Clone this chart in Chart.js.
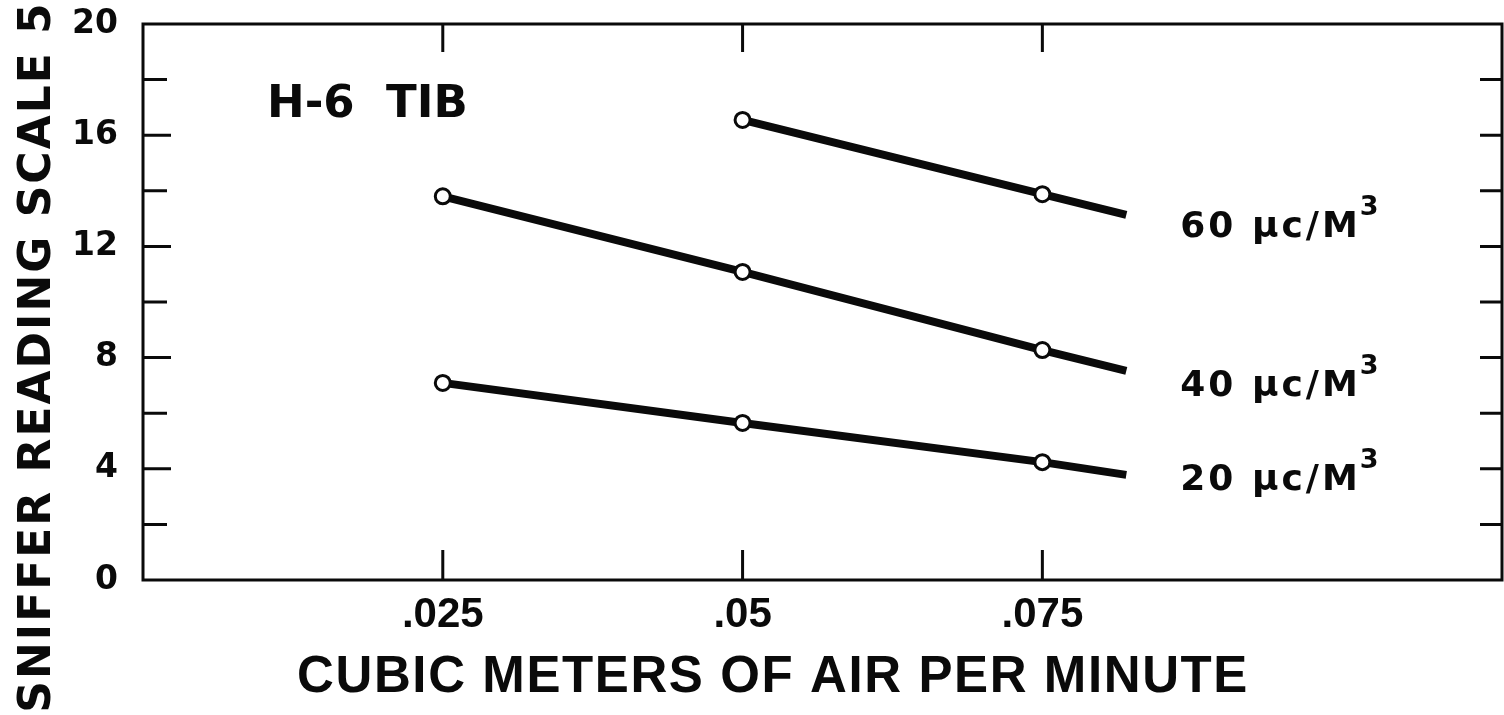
<!DOCTYPE html>
<html>
<head>
<meta charset="utf-8">
<title>Sniffer reading vs air flow</title>
<script src="https://cdn.jsdelivr.net/npm/chart.js@4"></script>
<style>
  html, body { margin: 0; padding: 0; background: #fff; overflow: hidden; }
  #wrap { width: 1504px; height: 715px; }
</style>
</head>
<body>
<div id="wrap"><canvas id="chart"></canvas></div>
<script>
// values (last point of each line = where the drawn line stops)
const flow60 = [0.05, 0.075, 0.082];
const reading60 = [16.55, 13.88, 13.13];
const flow40 = [0.025, 0.05, 0.075, 0.082];
const reading40 = [13.8, 11.08, 8.27, 7.52];
const flow20 = [0.025, 0.05, 0.075, 0.082];
const reading20 = [7.09, 5.65, 4.24, 3.78];

const seriesLabels = ['60 μc/M³', '40 μc/M³', '20 μc/M³'];
const xTickValues = [0.025, 0.05, 0.075];
const xTickLabels = ['.025', '.05', '.075'];
const yLabelEvery = 4;
const xTitle = 'CUBIC METERS OF AIR PER MINUTE';
const yTitle = 'SNIFFER READING SCALE 5';
const noteText = 'H-6  TIB';

const ink = '#0a0a0a';
// offsets of the series labels from the end of their line (px)
const labelDx = 54;
const labelDy = [22, 25, 15];

// frame + inward tick marks on all four sides
const frame = {
    id: 'frame',
    beforeDatasetsDraw(chart) {
        const { ctx, chartArea: a, scales: { x, y } } = chart;
        ctx.save();
        ctx.strokeStyle = ink;
        ctx.lineWidth = 3;
        ctx.strokeRect(a.left, a.top, a.right - a.left, a.bottom - a.top);
        ctx.beginPath();
        for (const t of x.ticks) {
            const px = x.getPixelForValue(t.value);
            ctx.moveTo(px, a.top);
            ctx.lineTo(px, a.top + 28);
            ctx.moveTo(px, a.bottom);
            ctx.lineTo(px, a.bottom - 30);
        }
        for (const t of y.ticks) {
            if (t.value <= y.min || t.value >= y.max) continue;
            const py = y.getPixelForValue(t.value);
            const len = t.value % yLabelEvery === 0 ? 28 : 24;
            ctx.moveTo(a.left, py);
            ctx.lineTo(a.left + len, py);
            ctx.moveTo(a.right, py);
            ctx.lineTo(a.right - 22, py);
        }
        ctx.stroke();
        ctx.restore();
    }
};

// axis titles, the note and the line labels
const texts = {
    id: 'texts',
    afterDraw(chart) {
        const { ctx, chartArea: a } = chart;
        ctx.save();
        ctx.fillStyle = ink;
        ctx.textBaseline = 'alphabetic';

        // y title, reads bottom to top
        ctx.save();
        ctx.font = 'bold 44px "DejaVu Sans"';
        ctx.letterSpacing = '2px';
        ctx.textAlign = 'center';
        ctx.translate(50, 357);
        ctx.rotate(-Math.PI / 2);
        ctx.fillText(yTitle, 0, 0);
        ctx.restore();

        // x title
        ctx.font = 'bold 51px "Liberation Sans"';
        ctx.letterSpacing = '1.6px';
        ctx.textAlign = 'center';
        ctx.fillText(xTitle, 773, 692);

        // note
        ctx.font = 'bold 45px "DejaVu Sans"';
        ctx.letterSpacing = '0px';
        ctx.textAlign = 'left';
        ctx.fillText(noteText, a.left + 124, a.top + 93);

        // labels at the end of each line
        chart.data.datasets.forEach((ds, i) => {
            const pts = chart.getDatasetMeta(i).data;
            const end = pts[pts.length - 1];
            const [main] = seriesLabels[i].split('³');
            const lx = end.x + labelDx;
            const ly = end.y + labelDy[i];
            ctx.font = 'bold 36px "DejaVu Sans"';
            ctx.letterSpacing = '3px';
            ctx.fillText(main, lx, ly);
            const w = ctx.measureText(main).width;
            ctx.font = 'bold 27px "DejaVu Sans"';
            ctx.letterSpacing = '0px';
            ctx.fillText('3', lx + w - 1, ly - 22);
        });
        ctx.restore();
    }
};

function series(xs, ys) {
    return xs.map((x, i) => ({ x: x, y: ys[i] }));
}

function lineSet(label, points) {
    return {
        label: label,
        data: points,
        showLine: true,
        borderColor: ink,
        borderWidth: 8,
        backgroundColor: '#fff',
        pointBackgroundColor: '#fff',
        pointBorderColor: ink,
        pointBorderWidth: 3,
        pointRadius: ctx => ctx.dataIndex === points.length - 1 ? 0 : 7.5,
        pointHoverRadius: 0
    };
}

// no extra room for overhanging tick labels: the frame sits where the layout padding says
function noOverhang(s) {
    s.paddingLeft = 0;
    s.paddingRight = 0;
    s.paddingTop = 0;
    s.paddingBottom = 0;
}

new Chart(document.getElementById('chart'), {
    type: 'scatter',
    data: {
        datasets: [
            lineSet(seriesLabels[0], series(flow60, reading60)),
            lineSet(seriesLabels[1], series(flow40, reading40)),
            lineSet(seriesLabels[2], series(flow20, reading20))
        ]
    },
    options: {
        responsive: true,
        maintainAspectRatio: false,
        animation: false,
        layout: { autoPadding: false, padding: { top: 24, right: 2, left: 0, bottom: 0 } },
        plugins: {
            legend: { display: false },
            tooltip: { enabled: false }
        },
        scales: {
            x: {
                type: 'linear',
                min: 0,
                max: 0.11333,
                afterBuildTicks: s => { s.ticks = xTickValues.map(v => ({ value: v })); },
                afterFit: s => { s.height = 135; noOverhang(s); },
                grid: { display: false, drawTicks: false },
                border: { display: false },
                ticks: {
                    autoSkip: false,
                    maxRotation: 0,
                    padding: 10,
                    color: ink,
                    font: { family: '"Liberation Sans"', size: 42, weight: 'bold' },
                    callback: v => xTickLabels[xTickValues.indexOf(v)]
                }
            },
            y: {
                min: 0,
                max: 20,
                afterFit: s => { s.width = 143; noOverhang(s); },
                grid: { display: false, drawTicks: false },
                border: { display: false },
                ticks: {
                    stepSize: 2,
                    autoSkip: false,
                    padding: 25,
                    color: ink,
                    font: { family: '"DejaVu Sans"', size: 33, weight: 'bold' },
                    callback: v => v % yLabelEvery === 0 ? String(v) : ''
                }
            }
        }
    },
    plugins: [frame, texts]
});
</script>
</body>
</html>
